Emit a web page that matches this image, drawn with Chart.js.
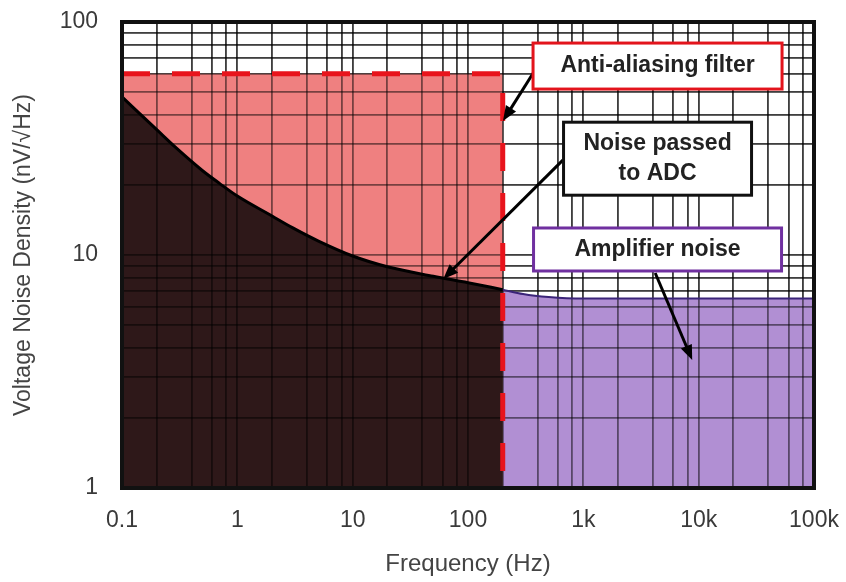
<!DOCTYPE html>
<html><head><meta charset="utf-8">
<script src="https://cdn.jsdelivr.net/npm/chart.js@4/dist/chart.umd.min.js"></script>
<style>html,body{margin:0;padding:0;background:#fff}</style>
</head><body>
<canvas id="c" width="846" height="582"></canvas>
<script>
// ---- data ----
const noiseFreq = [0.1, 0.2, 0.3, 0.5, 0.7, 1, 2, 3, 5, 10, 20, 50, 100, 200];
const noiseDensity = [47.7, 34.5, 28.6, 23.0, 20.3, 17.9, 14.7, 13.1, 11.5, 9.9, 8.9, 8.1, 7.6, 7.1];
const ampFreq = [200, 300, 500, 1000, 10000, 100000];
const ampDensity = [7.1, 6.8, 6.6, 6.5, 6.5, 6.5];
const filterFreq = [0.1, 200, 200];
const filterLevel = [60, 60, 1];
const xDecades = [0.1, 1, 10, 100, 1000, 10000, 100000];
const xTickLabels = ['0.1', '1', '10', '100', '1k', '10k', '100k'];
const xMinorSteps = [2, 4, 6, 8];
const yDecades = [1, 10, 100];
const yTickLabels = ['1', '10', '100'];
const yMinorSteps = [2, 3, 4, 5, 6, 7, 8, 9];
const noteTexts = [['Anti-aliasing filter'], ['Noise passed', 'to ADC'], ['Amplifier noise']];
const noteFreq = [4400, 4400, 4400];
const noteLevel = [64.7, 25.9, 10.56];
const arrowFromFreq = [382, 668, 4200];
const arrowFromLevel = [62.2, 25.6, 8.37];
const arrowToFreq = [201, 61, 8790];
const arrowToLevel = [37.6, 7.89, 3.54];

// ---- styles ----
const noteBoxSize = [[249, 46], [188, 73], [248, 43]];
const noteBorder = ['#e3141c', '#111111', '#7030a0'];
const GRID = 'rgba(0,0,0,0.5)';
const FONT = 'Liberation Sans';

function gridValues(decades, steps) {
  const out = [];
  decades.forEach((d, i) => {
    out.push(d);
    if (i < decades.length - 1) steps.forEach(s => out.push(d * s));
  });
  return out;
}
function labelFor(v, decades, labels) {
  for (let i = 0; i < decades.length; i++) {
    if (Math.abs(Math.log10(v) - Math.log10(decades[i])) < 1e-6) return labels[i];
  }
  return '';
}
const pts = (xs, ys) => xs.map((x, i) => ({x: x, y: ys[i]}));
function noPad(s) { s.paddingTop = 0; s.paddingBottom = 0; s.paddingLeft = 0; s.paddingRight = 0; }

const overlay = {
  id: 'overlay',
  beforeDatasetsDraw(chart) {
    chart.scales.x.drawGrid(chart.chartArea);
    chart.scales.y.drawGrid(chart.chartArea);
  },
  afterDatasetsDraw(chart) {
    const {ctx, chartArea: a} = chart;
    ctx.save();
    ctx.strokeStyle = '#111';
    ctx.lineWidth = 4;
    ctx.strokeRect(a.left, a.top, a.right - a.left, a.bottom - a.top);
    ctx.restore();
  },
  afterDraw(chart) {
    const {ctx} = chart;
    const xs = chart.scales.x, ys = chart.scales.y;
    ctx.save();
    for (let i = 0; i < arrowFromFreq.length; i++) {
      const x1 = xs.getPixelForValue(arrowFromFreq[i]), y1 = ys.getPixelForValue(arrowFromLevel[i]);
      const x2 = xs.getPixelForValue(arrowToFreq[i]), y2 = ys.getPixelForValue(arrowToLevel[i]);
      const ang = Math.atan2(y2 - y1, x2 - x1);
      const L = 15, W = 6;
      ctx.strokeStyle = '#000'; ctx.fillStyle = '#000'; ctx.lineWidth = 3;
      ctx.beginPath(); ctx.moveTo(x1, y1);
      ctx.lineTo(x2 - Math.cos(ang) * L * 0.8, y2 - Math.sin(ang) * L * 0.8); ctx.stroke();
      ctx.beginPath();
      ctx.moveTo(x2, y2);
      ctx.lineTo(x2 - Math.cos(ang) * L - Math.sin(ang) * W, y2 - Math.sin(ang) * L + Math.cos(ang) * W);
      ctx.lineTo(x2 - Math.cos(ang) * L + Math.sin(ang) * W, y2 - Math.sin(ang) * L - Math.cos(ang) * W);
      ctx.closePath(); ctx.fill();
    }
    for (let i = 0; i < noteTexts.length; i++) {
      const cx = xs.getPixelForValue(noteFreq[i]), cy = ys.getPixelForValue(noteLevel[i]);
      const [w, h] = noteBoxSize[i];
      ctx.fillStyle = '#fff';
      ctx.fillRect(cx - w / 2, cy - h / 2, w, h);
      ctx.strokeStyle = noteBorder[i]; ctx.lineWidth = 3;
      ctx.strokeRect(cx - w / 2, cy - h / 2, w, h);
      ctx.fillStyle = '#222';
      ctx.font = 'bold 23px "' + FONT + '"';
      ctx.textAlign = 'center'; ctx.textBaseline = 'middle';
      const lines = noteTexts[i], lh = 30;
      lines.forEach((t, k) => {
        ctx.fillText(t, cx, cy + (k - (lines.length - 1) / 2) * lh);
      });
    }
    ctx.restore();
  }
};

new Chart(document.getElementById('c'), {
  type: 'line',
  data: {
    datasets: [
      {
        label: 'Anti-aliasing filter',
        data: pts(filterFreq, filterLevel),
        borderColor: '#e8141c', borderWidth: 5, borderDash: [28, 22], borderCapStyle: 'butt',
        backgroundColor: '#ef8080', fill: 'start', tension: 0, pointRadius: 0, order: 3
      },
      {
        label: 'Noise passed to ADC',
        data: pts(noiseFreq, noiseDensity),
        borderColor: '#000', borderWidth: 3,
        backgroundColor: '#2e1819', fill: 'start', cubicInterpolationMode: 'monotone', pointRadius: 0, order: 2
      },
      {
        label: 'Amplifier noise',
        data: pts(ampFreq, ampDensity),
        borderColor: '#3b2478', borderWidth: 2,
        backgroundColor: '#b18fd3', fill: 'start', cubicInterpolationMode: 'monotone', pointRadius: 0, order: 2
      }
    ]
  },
  options: {
    responsive: false, animation: false, devicePixelRatio: 1,
    layout: {padding: {top: 22, right: 32, left: 0, bottom: 0}},
    plugins: {legend: {display: false}, tooltip: {enabled: false}, filler: {drawTime: 'beforeDatasetsDraw'}},
    scales: {
      x: {
        type: 'logarithmic', min: 0.1, max: 100000,
        afterBuildTicks: s => { s.ticks = gridValues(xDecades, xMinorSteps).map(v => ({value: v})); },
        afterFit: s => { s.height = 94; noPad(s); },
        grid: {color: GRID, lineWidth: 1.8, drawTicks: false},
        border: {display: false},
        ticks: {autoSkip: false, maxRotation: 0, padding: 19, color: '#3a3a3a', font: {family: FONT, size: 23},
                callback: v => labelFor(v, xDecades, xTickLabels)},
        title: {display: true, text: 'Frequency (Hz)', color: '#444', font: {family: FONT, size: 24}, padding: {top: 0, bottom: 3}}
      },
      y: {
        type: 'logarithmic', min: 1, max: 100,
        afterBuildTicks: s => { s.ticks = gridValues(yDecades, yMinorSteps).map(v => ({value: v})); },
        afterFit: s => { s.width = 122; noPad(s); },
        grid: {color: GRID, lineWidth: 1.8, drawTicks: false},
        border: {display: false},
        ticks: {autoSkip: false, padding: 24, color: '#3a3a3a', font: {family: FONT, size: 23},
                callback: v => labelFor(v, yDecades, yTickLabels)},
        title: {display: true, text: 'Voltage Noise Density (nV/√Hz)', color: '#444', font: {family: FONT, size: 23}, padding: {top: 10, bottom: 0}}
      }
    }
  },
  plugins: [overlay]
});
</script>
</body></html>
